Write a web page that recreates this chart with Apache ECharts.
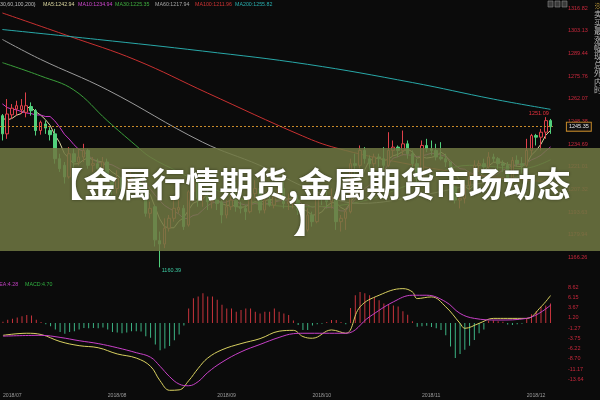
<!DOCTYPE html>
<html><head><meta charset="utf-8">
<script src="https://cdn.jsdelivr.net/npm/echarts@6/dist/echarts.min.js"></script>
<style>html,body{margin:0;padding:0;background:#0b0b0b;}#c{width:600px;height:400px;}</style>
</head><body><div id="c"></div>
<script>
const dates = [
'2018/07/02','2018/07/03','2018/07/04','2018/07/05','2018/07/06','2018/07/09','2018/07/10','2018/07/11','2018/07/12','2018/07/13','2018/07/16','2018/07/17','2018/07/18','2018/07/19','2018/07/20','2018/07/23','2018/07/24','2018/07/25','2018/07/26','2018/07/27','2018/07/30','2018/07/31',
'2018/08/01','2018/08/02','2018/08/03','2018/08/06','2018/08/07','2018/08/08','2018/08/09','2018/08/10','2018/08/13','2018/08/14','2018/08/15','2018/08/16','2018/08/17','2018/08/20','2018/08/21','2018/08/22','2018/08/23','2018/08/24','2018/08/27','2018/08/28','2018/08/29','2018/08/30','2018/08/31',
'2018/09/03','2018/09/04','2018/09/05','2018/09/06','2018/09/07','2018/09/10','2018/09/11','2018/09/12','2018/09/13','2018/09/14','2018/09/17','2018/09/18','2018/09/19','2018/09/20','2018/09/21','2018/09/24','2018/09/25','2018/09/26','2018/09/27','2018/09/28',
'2018/10/01','2018/10/02','2018/10/03','2018/10/04','2018/10/05','2018/10/08','2018/10/09','2018/10/10','2018/10/11','2018/10/12','2018/10/15','2018/10/16','2018/10/17','2018/10/18','2018/10/19','2018/10/22','2018/10/23','2018/10/24','2018/10/25','2018/10/26','2018/10/29','2018/10/30','2018/10/31',
'2018/11/01','2018/11/02','2018/11/05','2018/11/06','2018/11/07','2018/11/08','2018/11/09','2018/11/12','2018/11/13','2018/11/14','2018/11/15','2018/11/16','2018/11/19','2018/11/20','2018/11/21','2018/11/22','2018/11/23','2018/11/26','2018/11/27','2018/11/28','2018/11/29','2018/11/30',
'2018/12/03','2018/12/04','2018/12/05','2018/12/06','2018/12/07','2018/12/10'];

const opens = [1252,1241,1252.5,1256,1255.5,1254,1257.5,1255,1243,1247,1243,1241,1226,1222,1215,1229,1224,1227,1231,1222,1223,1220,
1224,1215,1208,1214,1208,1212,1214,1211,1211,1193,1197,1176.5,1174.5,1184,1190,1195,1196,1186,1206,1211,1202,1203,1200,
1201,1200,1192,1197,1201,1197,1196,1194,1205,1208,1195,1201,1198,1203,1208,1199,1200,1201,1195,1183,
1192,1188,1204,1202,1200,1203,1188,1190,1194,1223,1222,1231,1226,1223,1227,1226,1222,1231,1233,1231,1235,1229,1223,
1214,1234,1232,1231,1227,1226,1224,1209,1201,1202,1210,1215,1222,1223,1221,1227,1226,1223,1222,1214,1225,1223,
1222,1231,1240,1239,1242,1249];
const highs = [1253,1262,1259,1261,1262,1266,1260,1256,1249,1249,1245,1244,1229,1224,1233,1232,1232,1235,1232,1227,1226,1227,
1226,1216,1219,1215,1216,1218,1217,1215,1213,1200,1198,1182,1190,1192,1201,1201,1198,1207,1214,1213,1206,1207,1206,
1203,1201,1201,1204,1212,1200,1198,1207,1213,1211,1203,1204,1205,1211,1212,1205,1205,1204,1196,1196,
1194,1207,1206,1207,1208,1204,1192,1196,1226,1229,1234,1233,1228,1229,1229,1233,1242,1237,1234,1243,1237,1231,1226,
1237,1238,1237,1235,1236,1229,1224,1210,1206,1211,1218,1225,1225,1226,1230,1229,1227,1225,1224,1227,1228,1227,
1238,1241,1241,1244,1251.09,1250];
const lows = [1237,1238,1250,1252,1253,1251,1252,1240,1240.5,1241,1237,1223,1218,1211,1214,1219,1222,1224,1220,1218,1218,1219,
1212,1204,1205,1204,1207,1210,1209,1204,1191,1190,1173,1160.39,1172,1182,1188,1193,1183,1185,1200,1197,1197,1195,1196,
1195,1187,1190,1195,1194,1193,1189,1193,1202,1193,1193,1197,1196,1202,1196,1195,1196,1192,1180,1182,
1185,1187,1198,1196,1196,1183,1182,1183,1193,1214,1220,1223,1218,1220,1221,1219,1221,1227,1227,1228,1226,1221,1211,
1214,1230,1228,1225,1225,1221,1206,1199,1196,1199,1207,1213,1218,1217,1220,1224,1219,1218,1211,1211,1221,1217,
1221,1228,1234,1231,1238,1241];
const closes = [1241,1253,1256.5,1258,1258,1258,1255,1243,1248,1244.5,1240.5,1226,1220,1215,1229,1224,1227,1231,1222,1223,1220,1224,
1215,1208,1214,1208,1212,1214,1211,1208,1193,1196,1177,1174.5,1184,1190,1196,1196.5,1185,1206,1212,1202,1203,1200,1201,
1199,1192,1197,1201,1197,1196,1194,1205,1208,1195,1201,1198,1203,1208,1199,1200,1201,1195,1183,1192,
1188,1204,1202,1200,1203,1188,1190,1194,1223,1222,1231,1226,1223,1227,1226,1222,1231,1233,1231,1235,1229,1223,1214,
1234,1232,1231,1227,1226,1224,1209,1201,1202,1210,1215,1222,1223,1221,1227,1226,1223,1222,1214,1225,1223,1222,
1231,1240,1239,1242,1249,1245.35];

const ma5 = [1250.4,1249.4,1250.3,1252.3,1253.3,1256.7,1257.1,1254.4,1252.4,1249.7,1246.2,1240.4,1235.8,1229.2,1226.1,1222.8,1223,1225.2,1226.6,1225.4,1224.6,1224,
1220.8,1218,1216.2,1213.8,1211.4,1211.2,1211.8,1210.6,1207.6,1204.4,1197,1189.7,1184.9,1184.3,1184.3,1188.2,1190.3,1194.7,1199.1,1200.3,1201.6,1204.6,1203.6,
1201,1199,1197.8,1198,1197.2,1196.6,1197,1198.6,1200,1199.6,1200.6,1201.4,1201,1201,1201.8,1201.6,1202.2,1200.6,1195.6,1194.2,
1191.8,1192.4,1193.8,1197.2,1199.4,1199.4,1196.6,1195,1199.6,1203.4,1212,1219.2,1225,1225.8,1226.6,1224.8,1225.8,1227.8,1228.6,1230.4,1231.8,1230.2,1226.4,
1227,1226.4,1226.8,1227.6,1230,1228,1223.4,1217.4,1212.4,1209.2,1207.4,1210,1214.4,1218.2,1221.6,1223.8,1224,1223.8,1222.4,1222,1221.4,1221.2,
1223,1228.2,1231,1234.8,1240.2,1243.1];
const ma10 = [1259.1,1256.9,1255.9,1255.5,1254.4,1253.6,1253.3,1252.4,1252.4,1251.5,1251.5,1248.8,1245.1,1240.8,1237.9,1234.5,1231.7,1230.5,1227.9,1225.8,1223.7,1223.5,
1223,1222.3,1220.8,1219.2,1217.7,1216,1214.9,1213.4,1210.7,1207.9,1204.1,1200.8,1197.8,1196,1194.4,1192.6,1190,1189.8,1191.7,1192.3,1194.9,1197.5,1199.2,
1200.1,1199.7,1199.7,1201.3,1200.4,1198.8,1198,1198.2,1199,1198.4,1198.6,1199.2,1199.8,1200.5,1200.7,1201.1,1201.8,1200.8,1198.3,1198,
1196.7,1197.3,1197.2,1196.4,1196.8,1195.6,1194.5,1194.4,1198.4,1201.4,1205.7,1207.9,1210,1212.7,1215,1218.4,1222.5,1226.4,1227.2,1228.5,1228.3,1228,1227.1,
1227.8,1228.4,1229.3,1228.9,1228.2,1227.5,1224.9,1222.1,1220,1219.6,1217.7,1216.7,1215.9,1215.3,1215.4,1215.6,1217,1219.1,1220.3,1221.8,1222.6,1222.6,
1223.4,1225.3,1226.5,1228.1,1230.7,1233.1];
// slow averages as [candle index, value]
const ma30Pts = [[0,1284],[8,1276],[15,1267.5],[22,1249],[28,1234],[31,1227],[37,1218],[44,1208],[54,1199],[64,1197],[75,1200],[87,1212],[98,1222],[109,1220],[115,1225.35]];
const ma60Pts = [[0,1298],[8,1286],[22,1267.6],[42,1236],[54,1222],[65,1207],[75,1199],[88,1204],[100,1211],[115,1217.94]];
const ma100Pts = [[0,1314],[14,1300],[28,1285.6],[43,1265.7],[63,1239.7],[70,1232.5],[84,1223.4],[100,1216],[115,1211.96]];
const ma200Pts = [[0,1304],[20,1298],[42,1291],[64,1283],[86,1272],[103,1262],[115,1255.82]];

const macdHist = [0.3,0.8,1.0,1.3,1.6,1.9,1.8,0.8,0.2,-0.3,-0.8,-1.6,-2.2,-2.6,-2.2,-2.0,-1.6,-1.2,-1.3,-1.2,-1.3,-1.1,
-1.6,-2.2,-2.3,-2.5,-2.3,-2.0,-2.0,-2.1,-3.2,-3.6,-5.2,-6.6,-6.2,-5.6,-4.2,-2.8,-0.6,3.5,6.0,6.4,7.2,6.4,6.4,
5.6,4.4,3.5,3.5,2.7,3.1,3.5,3.5,2.7,2.3,2.7,2.7,3.5,2.7,2.3,1.9,0.6,-0.5,-1.7,-1.7,
-0.6,-0.3,-0.2,0.2,0.7,0.7,0.2,-0.3,3.6,6.7,7.5,7.2,6.7,6.3,5.5,4.7,4.4,4.2,4.0,2.8,2.0,0.4,-0.9,
-0.8,-0.7,-1.0,-1.3,-1.7,-3.0,-5.7,-8.5,-7.5,-6.5,-5.5,-4.1,-2.5,-1.6,0.5,0.6,0.4,0.3,-0.4,-0.5,-0.3,-0.2,
1.0,2.1,2.8,3.9,4.2,4.7];
const difPts = [[0,-3],[5,-2.5],[8,-2.8],[12,-4.5],[16,-5.5],[20,-6],[24,-7.5],[28,-8.5],[31,-10.5],[33,-14],[35,-16.3],[37,-16.2],[39,-14],[41,-11],[43,-8.5],[46,-6.5],[50,-5],[54,-3.8],[58,-2],[61,-1.8],[63,-3.3],[65,-3.7],[69,-1.7],[72,-2.5],[75,3.9],[79,6.7],[84,8.3],[86,7.5],[87,5.9],[90,6.3],[93,3.9],[96,-0.1],[97,-1.3],[100,-0.1],[103,1.1],[106,1.1],[110,1.1],[113,3.9],[115,6.63]];
const deaPts = [[0,-3.2],[8,-3],[12,-3.5],[16,-4.3],[20,-5],[24,-6],[28,-7.2],[31,-8.3],[33,-10.5],[35,-13],[37,-14.8],[39,-15.2],[41,-14.2],[43,-12],[46,-9.5],[50,-7],[54,-5.2],[58,-3.5],[61,-2.6],[63,-2.5],[72,-2.5],[77,1.5],[82,5.1],[86,6.7],[89,6.7],[93,5.1],[96,2.3],[99,1.1],[104,0.7],[110,1.1],[115,4.28]];

const priceTicks = [1316.82,1303.13,1289.44,1275.76,1262.07,1248.38,1234.69,1221.01,1207.32,1193.63,1179.94,1166.26];
const macdTicks = [8.62,6.15,3.67,1.20,-1.27,-3.75,-6.22,-8.70,-11.17,-13.64];
const lastPrice = 1245.35;
const markHigh = 1251.09;
const markLow = 1160.39;
const maLegend = [['MA5','1242.94','#dcd8a0'],['MA10','1234.94','#d048d0'],['MA30','1225.35','#3fae3f'],['MA60','1217.94','#a8a8a8'],['MA100','1211.96','#d03434'],['MA200','1255.82','#2ab0b0']];
const legendX = [43,78,115,155,195,235];
const titleText = '【金属行情期货,金属期货市场动态';
const titleText2 = '】';
const sideChars = ['※','卖','买','最','涨','幅','现','总','外','内','时'];

const F = '"Liberation Sans", "DejaVu Sans", sans-serif';
const chart = echarts.init(document.getElementById('c'));
const GL = -9.7, GW = 562.6;
const hiIdx = highs.indexOf(markHigh), loIdx = lows.indexOf(markLow);

const graphics = [];
graphics.push({type:'text', x:0, y:4.5, z:50, style:{text:'30,60,100,200)', fill:'#bdbdbd', fontSize:5.3, fontFamily:F, verticalAlign:'middle'}});
maLegend.forEach((m,i)=>{
  graphics.push({type:'text', x:legendX[i], y:4.5, z:50, style:{text:m[0]+':'+m[1], fill:m[2], fontSize:5.3, fontFamily:F, verticalAlign:'middle'}});
});
graphics.push({type:'text', x:-4.5, y:284.5, z:50, style:{text:'DEA:4.28', fill:'#c040c0', fontSize:5.3, fontFamily:F, verticalAlign:'middle'}});
graphics.push({type:'text', x:25, y:284.5, z:50, style:{text:'MACD:4.70', fill:'#30b040', fontSize:5.3, fontFamily:F, verticalAlign:'middle'}});
[548,555,562].forEach(x=>graphics.push({type:'rect', z:50, shape:{x:x, y:1, width:5, height:6}, style:{fill:'#3a3a3a', stroke:'#8a8a8a', lineWidth:0.6}}));
sideChars.forEach((c,i)=>graphics.push({type:'text', x:594, y:6+i*8.4, z:50, style:{text:c, fill:i===0?'#d8b040':'#bdbdbd', fontSize:8, fontFamily:'"Noto Sans CJK SC"', verticalAlign:'middle'}}));
graphics.push({type:'rect', z:100, shape:{x:0, y:148, width:600, height:103}, style:{fill:'rgba(112,120,66,0.86)'}});
graphics.push({type:'text', x:310, y:202.5, z:101, style:{text:titleText+'\n'+titleText2, fill:'#ffffff', fontSize:34, fontWeight:'bold', fontFamily:'"Noto Sans CJK SC", sans-serif', align:'center', verticalAlign:'middle', lineHeight:36, textShadowColor:'rgba(0,0,0,0.45)', textShadowBlur:3}});

const lineS = (name, data, color, xi, smooth) => ({type:'line', name, data, xAxisIndex:xi, yAxisIndex:xi, showSymbol:false, symbol:'none', smooth:smooth, clip:false, silent:true, lineStyle:{width:1, color}, z:3});

chart.setOption({
  animation:false,
  backgroundColor:'#0b0b0b',
  grid:[{left:GL, width:GW, top:8.3, height:267.7},{left:GL, width:GW, top:284, height:107}],
  xAxis:[
    {type:'category', gridIndex:0, data:dates, boundaryGap:true, axisLine:{show:false}, axisTick:{show:false}, axisLabel:{show:false}, splitLine:{show:false}},
    {type:'category', gridIndex:1, data:dates, boundaryGap:true, axisLine:{show:false}, axisTick:{show:false}, splitLine:{show:false},
     axisLabel:{show:true, color:'#9a9a9a', fontSize:5.2, fontFamily:F, align:'left', margin:2,
       interval:(i,v)=> i===0 || dates[i-1].slice(0,7)!==v.slice(0,7),
       formatter:(v)=>v.slice(0,7)}}
  ],
  yAxis:[
    {type:'value', gridIndex:0, position:'right', min:1155.17, max:1316.82, splitLine:{show:false}, axisLine:{show:false}, axisTick:{show:false},
     axisLabel:{color:'#c8283c', fontSize:5.5, fontFamily:F, margin:15, customValues:priceTicks, formatter:(v)=>v.toFixed(2)}},
    {type:'value', gridIndex:1, position:'right', min:-16.47, max:9.42, splitLine:{show:false}, axisLine:{show:false}, axisTick:{show:false},
     axisLabel:{color:'#c8283c', fontSize:5.5, fontFamily:F, margin:15, customValues:macdTicks, formatter:(v)=>v.toFixed(2)}}
  ],
  graphic:{elements:graphics},
  series:[
    {type:'candlestick', xAxisIndex:0, yAxisIndex:0, barWidth:3, z:4,
     data:dates.map((d,i)=>[opens[i],closes[i],lows[i],highs[i]]),
     itemStyle:{color:'#0b0b0b', borderColor:'#e0404a', color0:'#52d07c', borderColor0:'#52d07c', borderWidth:1},
     markPoint:{symbol:'rect', symbolSize:[0,0], silent:true, data:[
       {coord:[dates[hiIdx], markHigh], value:markHigh, label:{show:true, position:'left', distance:0, offset:[3,-4], color:'#e8303c', fontSize:5.5, fontFamily:F, formatter:(p)=>Number(p.value).toFixed(2)}},
       {coord:[dates[loIdx], markLow], value:markLow, label:{show:true, position:'right', distance:2, offset:[0,3], color:'#3cc8a0', fontSize:5.5, fontFamily:F, formatter:(p)=>Number(p.value).toFixed(2)}}
     ]},
     markLine:{symbol:'none', silent:true, data:[{yAxis:lastPrice}],
       lineStyle:{type:[2,2], color:'#c88a2a', width:1},
       label:{show:true, position:'end', distance:14, formatter:lastPrice.toFixed(2), color:'#e6e6e6', fontSize:5.5, fontFamily:F, backgroundColor:'#111', borderColor:'#c88a2a', borderWidth:1, padding:[1,2]}}
    },
    lineS('MA5', ma5, '#dcd8a0', 0, false),
    lineS('MA10', ma10, '#c838c8', 0, false),
    lineS('MA30', ma30Pts, '#3a9e3a', 0, 0.4),
    lineS('MA60', ma60Pts, '#9a9a9a', 0, 0.4),
    lineS('MA100', ma100Pts, '#c83030', 0, 0.4),
    lineS('MA200', ma200Pts, '#28a8a8', 0, 0.4),
    {type:'bar', xAxisIndex:1, yAxisIndex:1, barWidth:1, silent:true, z:2,
     data:macdHist.map(v=>({value:v, itemStyle:{color: v>=0 ? '#c8343c' : '#3cb484'}}))},
    lineS('DIF', difPts, '#d8d060', 1, 0.4),
    lineS('DEA', deaPts, '#c840c8', 1, 0.4)
  ]
});
</script></body></html>
